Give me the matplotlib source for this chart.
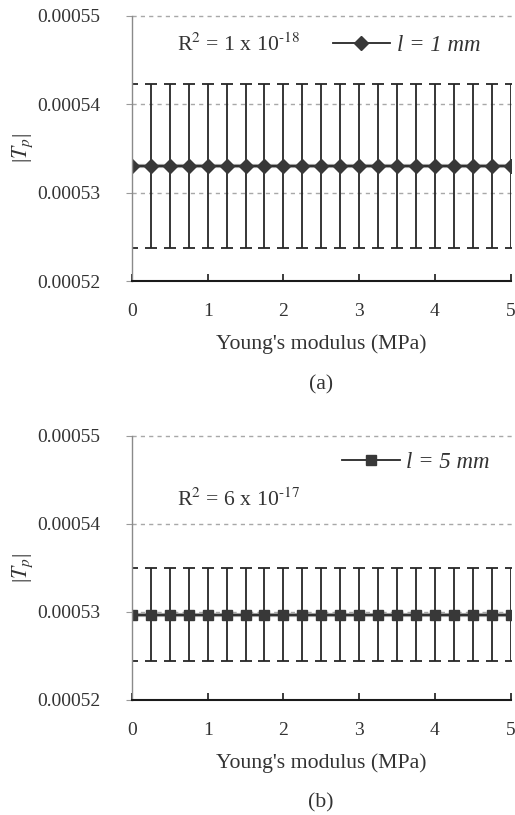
import numpy as np
import matplotlib
matplotlib.use("Agg")
import matplotlib.pyplot as plt
from matplotlib.lines import Line2D

plt.rcParams['font.family'] = ['Liberation Serif', 'DejaVu Serif']
plt.rcParams['mathtext.fontset'] = 'stix'

# Young's modulus (MPa), 21 points for each panel
young_mpa = [0.0, 0.25, 0.5, 0.75, 1.0, 1.25, 1.5, 1.75, 2.0, 2.25, 2.5,
             2.75, 3.0, 3.25, 3.5, 3.75, 4.0, 4.25, 4.5, 4.75, 5.0]

# |Tp| for l = 1 mm and l = 5 mm (flat within numerical noise)
tp_1mm = [0.000533] * 21
tp_1mm_err = [0.0000093] * 21
tp_5mm = [0.0005297] * 21
tp_5mm_err = [0.0000053] * 21

panel_labels = ['(a)', '(b)']
legend_labels = ['l = 1 mm', 'l = 5 mm']
r2_labels = [r'R$^2$ = 1 x 10$^{\text{-18}}$', r'R$^2$ = 6 x 10$^{\text{-17}}$']
y_ticks = [0.00052, 0.00053, 0.00054, 0.00055]
y_tick_labels = ['0.00052', '0.00053', '0.00054', '0.00055']
x_ticks = [0, 1, 2, 3, 4, 5]

W, H = 515, 815
TXT = '#333333'
FS = 15.7
fig = plt.figure(figsize=(W / 100, H / 100), dpi=100)


def px_axes(left, right, top, bottom):
    return fig.add_axes([left / W, 1 - bottom / H, (right - left) / W, (bottom - top) / H])


def draw_panel(ax, y, yerr, marker, ms, leg_label, r2, leg_pos, r2_pos, panel, panel_y):
    ax.set_xlim(0, 5)
    ax.set_ylim(0.00052, 0.00055)

    # dashed gridlines, running past the right edge a little
    for yt in y_ticks[1:]:
        ax.plot([0, 1.02], [yt, yt], transform=ax.get_yaxis_transform(),
                color='#a8a8a8', lw=1.0, ls=(0, (3, 3)), clip_on=False, zorder=0)

    # trendline (gray) under the data line
    coef = np.polyfit(young_mpa, y, 1)
    ax.plot(young_mpa, np.polyval(coef, young_mpa), color='#a0a0a0', lw=3.0, zorder=1)

    ax.errorbar(young_mpa, y, yerr=yerr, fmt='-', color='#262626', lw=1.3,
                elinewidth=1.3, capsize=4, capthick=1.3, zorder=2,
                marker=marker, ms=ms, mfc='#383838', mec='#383838')

    ax.spines['top'].set_visible(False)
    ax.spines['right'].set_visible(False)
    ax.spines['left'].set_color('#8a8a8a')
    ax.spines['left'].set_linewidth(1.0)
    ax.spines['bottom'].set_color('#1a1a1a')
    ax.spines['bottom'].set_linewidth(1.5)

    ax.set_yticks(y_ticks)
    ax.set_yticklabels(y_tick_labels)
    ax.set_xticks(x_ticks)
    ax.tick_params(axis='y', direction='out', length=4, color='#9a9a9a',
                   labelsize=14, pad=19, labelcolor=TXT)
    ax.tick_params(axis='x', direction='in', length=5, width=1.2, color='#1a1a1a',
                   labelsize=14, pad=16, labelcolor=TXT)

    ax.set_xlabel("Young's modulus (MPa)", fontsize=FS, color=TXT)
    ax.xaxis.set_label_coords(0.5, -0.2)
    ax.set_ylabel(r'|$T_p$|', fontsize=FS, color=TXT)
    ax.yaxis.set_label_coords(-0.255, 0.5)

    handle = Line2D([], [], color='#262626', lw=1.3, marker=marker, ms=ms,
                    mfc='#383838', mec='#383838')
    ax.legend([handle], [leg_label], loc='center right', bbox_to_anchor=leg_pos,
              frameon=False, handlelength=2.5, handletextpad=0.3,
              prop={'family': 'Liberation Serif', 'style': 'italic', 'size': 16.5},
              labelcolor=TXT)

    ax.text(r2_pos[0], r2_pos[1], r2, transform=ax.transAxes, fontsize=FS,
            color=TXT, ha='left', va='center')

    fig.text(321 / W, 1 - panel_y / H, panel, fontsize=FS, color=TXT,
             ha='center', va='center')


ax1 = px_axes(132, 510.5, 16, 281)
draw_panel(ax1, tp_1mm, tp_1mm_err, 'D', 7.5, legend_labels[0], r2_labels[0],
           (0.975, 0.89), (0.12, 0.89), panel_labels[0], 385)

ax2 = px_axes(132, 510.5, 436, 700)
draw_panel(ax2, tp_5mm, tp_5mm_err, 's', 7.5, legend_labels[1], r2_labels[1],
           (1.0, 0.898), (0.12, 0.758), panel_labels[1], 803)

fig.savefig('out.png', dpi=100)
